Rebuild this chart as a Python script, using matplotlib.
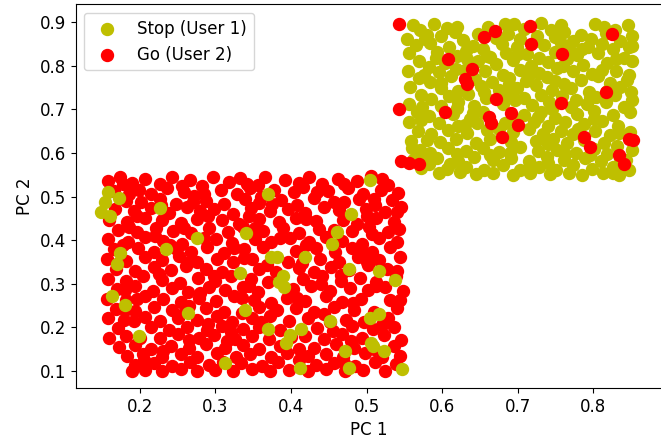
import numpy as np
import matplotlib
matplotlib.use("Agg")
import matplotlib.pyplot as plt

plt.rcParams['font.family'] = ['DejaVu Sans']
plt.rcParams['font.size'] = 12

# Stop (User 1) - main cluster, upper right
stop_main = np.array([
    (0.561,0.893),(0.571,0.881),(0.589,0.897),(0.606,0.886),(0.598,0.868),(0.647,0.874),(0.661,0.889),(0.695,0.895),(0.709,0.885),(0.731,0.898),(0.744,0.883),(0.762,0.878),(0.784,0.871),(0.803,0.896),(0.829,0.882),(0.846,0.893),(0.851,0.868),
    (0.553,0.862),(0.580,0.871),(0.617,0.877),(0.628,0.859),(0.672,0.864),(0.688,0.874),(0.703,0.861),(0.726,0.869),(0.749,0.866),(0.773,0.858),(0.797,0.862),(0.817,0.875),(0.836,0.856),
    (0.566,0.848),(0.584,0.853),(0.609,0.842),(0.641,0.846),(0.654,0.838),(0.679,0.851),(0.699,0.843),(0.735,0.847),(0.757,0.853),(0.768,0.839),(0.793,0.844),(0.812,0.851),(0.848,0.842),
    (0.556,0.829),(0.594,0.831),(0.620,0.823),(0.632,0.834),(0.663,0.821),(0.685,0.829),(0.713,0.826),(0.728,0.818),(0.749,0.832),(0.779,0.824),(0.806,0.829),(0.826,0.838),(0.841,0.817),
    (0.570,0.811),(0.583,0.797),(0.604,0.807),(0.647,0.811),(0.671,0.804),(0.694,0.813),(0.718,0.799),(0.741,0.809),(0.765,0.815),(0.787,0.801),(0.819,0.806),(0.852,0.812),
    (0.555,0.789),(0.596,0.785),(0.619,0.792),(0.657,0.787),(0.681,0.779),(0.703,0.791),(0.729,0.783),(0.752,0.796),(0.774,0.787),(0.799,0.782),(0.831,0.789),(0.847,0.778),
    (0.569,0.771),(0.584,0.763),(0.612,0.776),(0.644,0.770),(0.666,0.762),(0.689,0.772),(0.711,0.766),(0.739,0.774),(0.761,0.759),(0.784,0.768),(0.806,0.776),(0.823,0.761),(0.845,0.768),
    (0.558,0.751),(0.599,0.748),(0.621,0.742),(0.651,0.753),(0.676,0.745),(0.699,0.748),(0.724,0.757),(0.745,0.744),(0.771,0.749),(0.795,0.741),(0.836,0.752),
    (0.572,0.733),(0.586,0.724),(0.609,0.731),(0.634,0.736),(0.658,0.727),(0.686,0.735),(0.708,0.726),(0.731,0.733),(0.759,0.731),(0.778,0.722),(0.804,0.728),(0.829,0.734),(0.851,0.722),
    (0.556,0.713),(0.598,0.708),(0.621,0.717),(0.642,0.708),(0.681,0.713),(0.719,0.709),(0.742,0.718),(0.771,0.705),(0.792,0.712),(0.817,0.716),(0.841,0.706),
    (0.567,0.694),(0.583,0.686),(0.615,0.689),(0.637,0.679),(0.654,0.693),(0.709,0.688),(0.731,0.695),(0.749,0.681),(0.779,0.689),(0.801,0.696),(0.826,0.688),(0.849,0.694),
    (0.556,0.671),(0.596,0.668),(0.621,0.662),(0.646,0.669),(0.684,0.668),(0.722,0.672),(0.741,0.663),(0.763,0.671),(0.788,0.666),(0.812,0.673),(0.833,0.663),
    (0.568,0.651),(0.585,0.644),(0.608,0.653),(0.633,0.646),(0.659,0.652),(0.694,0.648),(0.715,0.655),(0.734,0.644),(0.757,0.651),(0.774,0.644),(0.803,0.651),(0.822,0.641),(0.849,0.649),
    (0.559,0.628),(0.597,0.625),(0.619,0.633),(0.645,0.623),(0.664,0.631),(0.691,0.626),(0.724,0.627),(0.747,0.633),(0.766,0.622),(0.788,0.629),(0.814,0.624),(0.832,0.617),
    (0.571,0.608),(0.584,0.601),(0.608,0.611),(0.632,0.604),(0.654,0.611),(0.676,0.603),(0.703,0.613),(0.727,0.604),(0.752,0.608),(0.777,0.601),(0.801,0.609),(0.819,0.598),(0.851,0.607),
    (0.561,0.585),(0.593,0.589),(0.621,0.582),(0.643,0.591),(0.667,0.583),(0.691,0.589),(0.715,0.582),(0.739,0.591),(0.761,0.583),(0.789,0.588),(0.811,0.581),(0.836,0.589),
    (0.572,0.566),(0.583,0.574),(0.606,0.563),(0.632,0.569),(0.656,0.562),(0.681,0.572),(0.703,0.561),(0.729,0.568),(0.751,0.562),(0.773,0.572),(0.799,0.564),(0.826,0.569),(0.848,0.562),
    (0.596,0.553),(0.624,0.557),(0.645,0.551),(0.668,0.555),(0.694,0.549),(0.716,0.553),(0.743,0.551),(0.768,0.555),(0.786,0.549),(0.813,0.553),(0.835,0.550),
    # filling the gaps
    (0.578,0.862),(0.620,0.890),(0.683,0.897),(0.757,0.893),(0.815,0.888),(0.592,0.818),(0.633,0.815),(0.700,0.828),(0.786,0.838),(0.830,0.815),
    (0.576,0.779),(0.631,0.790),(0.716,0.782),(0.760,0.800),(0.812,0.791),(0.598,0.761),(0.655,0.741),(0.689,0.758),(0.750,0.766),(0.818,0.743),
    (0.574,0.705),(0.620,0.703),(0.697,0.722),(0.745,0.700),(0.796,0.727),(0.850,0.740),(0.572,0.676),(0.641,0.692),(0.693,0.677),(0.727,0.682),
    (0.801,0.678),(0.580,0.630),(0.631,0.665),(0.676,0.655),(0.741,0.620),(0.780,0.655),(0.835,0.645),(0.574,0.594),(0.620,0.598),(0.690,0.601),
    (0.741,0.578),(0.796,0.595),(0.844,0.583),(0.560,0.612),(0.610,0.575),(0.663,0.596),(0.717,0.574),(0.763,0.597),(0.826,0.553),(0.852,0.845),
    (0.660,0.822),(0.725,0.858),
])

# Go (User 2) - main cluster, lower left
go_main = np.array([
    (0.157,0.535),(0.174,0.546),(0.189,0.531),(0.207,0.540),(0.226,0.528),(0.243,0.544),(0.266,0.537),(0.282,0.524),(0.297,0.546),(0.318,0.533),(0.333,0.542),(0.356,0.527),(0.366,0.546),(0.392,0.538),(0.424,0.545),(0.441,0.529),(0.462,0.541),(0.487,0.535),(0.506,0.547),(0.529,0.527),
    (0.165,0.513),(0.199,0.516),(0.214,0.506),(0.236,0.519),(0.258,0.511),(0.272,0.502),(0.307,0.514),(0.329,0.507),(0.346,0.520),(0.378,0.516),(0.404,0.511),(0.416,0.523),(0.449,0.512),(0.475,0.519),(0.496,0.506),(0.519,0.514),(0.542,0.509),
    (0.182,0.491),(0.201,0.487),(0.227,0.494),(0.248,0.483),(0.288,0.491),(0.311,0.482),(0.339,0.494),(0.358,0.486),(0.387,0.492),(0.408,0.481),(0.431,0.497),(0.457,0.488),(0.490,0.494),(0.511,0.481),(0.534,0.492),
    (0.167,0.472),(0.192,0.466),(0.214,0.474),(0.239,0.462),(0.262,0.476),(0.279,0.467),(0.298,0.471),(0.323,0.461),(0.347,0.474),(0.372,0.466),(0.396,0.472),(0.419,0.463),(0.444,0.477),(0.463,0.469),(0.499,0.471),(0.525,0.465),(0.546,0.476),
    (0.159,0.447),(0.183,0.441),(0.206,0.452),(0.229,0.446),(0.254,0.439),(0.275,0.449),(0.309,0.446),(0.331,0.438),(0.357,0.449),(0.384,0.442),(0.407,0.451),(0.433,0.443),(0.469,0.446),(0.488,0.438),(0.513,0.451),(0.537,0.441),
    (0.171,0.424),(0.196,0.418),(0.221,0.429),(0.244,0.421),(0.268,0.416),(0.292,0.427),(0.316,0.419),(0.336,0.431),(0.363,0.421),(0.389,0.428),(0.411,0.417),(0.437,0.425),(0.481,0.422),(0.503,0.431),(0.528,0.419),
    (0.157,0.402),(0.184,0.396),(0.207,0.407),(0.231,0.399),(0.256,0.392),(0.301,0.402),(0.322,0.394),(0.352,0.403),(0.374,0.396),(0.399,0.405),(0.424,0.397),(0.447,0.408),(0.468,0.399),(0.494,0.391),(0.517,0.404),(0.541,0.396),
    (0.166,0.379),(0.197,0.383),(0.218,0.372),(0.246,0.381),(0.267,0.374),(0.289,0.385),(0.311,0.371),(0.338,0.379),(0.363,0.384),(0.407,0.376),(0.433,0.383),(0.458,0.372),(0.481,0.381),(0.507,0.374),(0.531,0.385),
    (0.156,0.358),(0.181,0.352),(0.206,0.361),(0.229,0.354),(0.252,0.363),(0.276,0.351),(0.302,0.358),(0.323,0.349),(0.349,0.357),(0.396,0.351),(0.438,0.358),(0.464,0.351),(0.489,0.362),(0.516,0.355),(0.544,0.361),
    (0.168,0.334),(0.193,0.329),(0.218,0.338),(0.241,0.331),(0.261,0.341),(0.287,0.333),(0.309,0.327),(0.357,0.334),(0.368,0.342),(0.411,0.336),(0.431,0.328),(0.453,0.339),(0.477,0.331),(0.502,0.342),(0.527,0.334),
    (0.158,0.312),(0.182,0.306),(0.204,0.317),(0.229,0.309),(0.253,0.302),(0.277,0.314),(0.299,0.307),(0.321,0.318),(0.347,0.311),(0.369,0.304),(0.416,0.311),(0.441,0.318),(0.466,0.306),(0.491,0.314),(0.512,0.303),(0.539,0.317),
    (0.169,0.289),(0.193,0.294),(0.217,0.284),(0.243,0.291),(0.264,0.282),(0.291,0.293),(0.312,0.285),(0.336,0.292),(0.356,0.281),(0.403,0.287),(0.427,0.294),(0.452,0.283),(0.478,0.291),(0.502,0.286),(0.524,0.292),(0.548,0.283),
    (0.156,0.266),(0.182,0.262),(0.207,0.271),(0.231,0.264),(0.254,0.259),(0.278,0.268),(0.301,0.261),(0.324,0.272),(0.351,0.263),(0.374,0.257),(0.395,0.267),(0.419,0.261),(0.446,0.271),(0.468,0.259),(0.493,0.266),(0.531,0.262),
    (0.168,0.243),(0.194,0.238),(0.219,0.247),(0.242,0.241),(0.287,0.244),(0.311,0.236),(0.357,0.247),(0.381,0.239),(0.406,0.245),(0.431,0.236),(0.457,0.247),(0.483,0.241),(0.541,0.244),
    (0.157,0.221),(0.179,0.216),(0.206,0.224),(0.227,0.214),(0.251,0.222),(0.276,0.217),(0.302,0.226),(0.322,0.213),(0.348,0.221),(0.372,0.226),(0.397,0.214),(0.422,0.222),(0.473,0.218),(0.497,0.212),(0.529,0.221),
    (0.171,0.198),(0.214,0.202),(0.238,0.194),(0.262,0.201),(0.289,0.193),(0.309,0.204),(0.336,0.196),(0.357,0.202),(0.385,0.193),(0.434,0.199),(0.456,0.192),(0.481,0.203),(0.508,0.196),(0.537,0.201),
    (0.159,0.176),(0.182,0.181),(0.227,0.176),(0.251,0.184),(0.278,0.175),(0.298,0.182),(0.326,0.173),(0.349,0.181),(0.371,0.174),(0.419,0.181),(0.444,0.173),(0.468,0.184),(0.494,0.176),(0.523,0.182),(0.546,0.171),
    (0.172,0.155),(0.194,0.159),(0.215,0.151),(0.241,0.158),(0.265,0.152),(0.287,0.161),(0.313,0.153),(0.337,0.159),(0.358,0.151),(0.386,0.157),(0.431,0.153),(0.459,0.161),(0.484,0.152),(0.537,0.158),
    (0.183,0.134),(0.204,0.138),(0.229,0.131),(0.254,0.139),(0.276,0.132),(0.302,0.141),(0.327,0.133),(0.346,0.139),(0.374,0.131),(0.395,0.142),(0.422,0.134),(0.447,0.139),(0.469,0.131),(0.498,0.141),(0.521,0.133),
    (0.193,0.114),(0.218,0.118),(0.243,0.111),(0.266,0.121),(0.291,0.113),(0.334,0.119),(0.361,0.112),(0.383,0.121),(0.433,0.114),(0.457,0.119),(0.485,0.112),(0.511,0.121),(0.539,0.115),
    (0.189,0.101),(0.206,0.103),(0.229,0.099),(0.254,0.104),(0.276,0.100),(0.299,0.103),(0.323,0.099),(0.349,0.104),(0.372,0.100),(0.398,0.102),(0.422,0.099),(0.447,0.104),(0.471,0.100),(0.495,0.102),(0.524,0.100),
    # filling the gaps
    (0.178,0.528),(0.255,0.525),(0.342,0.530),(0.410,0.532),(0.470,0.528),(0.520,0.540),(0.185,0.505),(0.285,0.505),(0.360,0.500),(0.435,0.510),
    (0.510,0.495),(0.228,0.480),(0.270,0.487),(0.375,0.482),(0.470,0.488),(0.540,0.465),(0.196,0.455),(0.290,0.455),(0.344,0.455),(0.420,0.448),
    (0.500,0.455),(0.185,0.430),(0.258,0.428),(0.352,0.428),(0.457,0.424),(0.543,0.425),(0.220,0.410),(0.285,0.405),(0.385,0.405),(0.507,0.415),
    (0.178,0.390),(0.240,0.390),(0.325,0.383),(0.420,0.388),(0.494,0.372),(0.170,0.346),(0.262,0.347),(0.338,0.360),(0.415,0.348),(0.500,0.350),
    (0.225,0.322),(0.298,0.318),(0.380,0.326),(0.466,0.320),(0.540,0.330),(0.180,0.285),(0.280,0.280),(0.345,0.295),(0.440,0.300),(0.513,0.296),
    (0.196,0.265),(0.265,0.250),(0.335,0.268),(0.408,0.268),(0.482,0.255),(0.545,0.262),(0.180,0.240),(0.260,0.238),(0.335,0.232),(0.444,0.230),
    (0.510,0.236),(0.192,0.215),(0.290,0.208),(0.360,0.212),(0.452,0.212),(0.520,0.205),(0.200,0.175),(0.265,0.170),(0.320,0.190),(0.400,0.178),
    (0.480,0.168),(0.230,0.145),(0.315,0.168),(0.410,0.150),(0.510,0.150),(0.205,0.125),(0.310,0.120),(0.410,0.125),(0.470,0.118),(0.545,0.135),
])

# Go points that fall inside the Stop cluster
go_in_stop = np.array([
    (0.543,0.895),(0.656,0.865),(0.670,0.880),(0.717,0.891),(0.718,0.849),(0.825,0.874),
    (0.759,0.827),(0.608,0.815),(0.640,0.793),(0.630,0.769),(0.633,0.758),(0.817,0.741),
    (0.672,0.723),(0.757,0.714),(0.543,0.702),(0.604,0.693),(0.691,0.692),(0.662,0.682),
    (0.665,0.668),(0.701,0.664),(0.680,0.637),(0.788,0.637),(0.796,0.613),(0.848,0.632),
    (0.853,0.630),(0.835,0.595),(0.841,0.575),(0.546,0.582),(0.556,0.576),(0.570,0.574),
])

# Stop points that fall inside the Go cluster
stop_in_go = np.array([
    (0.157,0.511),(0.154,0.488),(0.149,0.465),(0.160,0.456),(0.172,0.497),(0.226,0.473),
    (0.370,0.507),(0.504,0.538),(0.340,0.417),(0.275,0.404),(0.234,0.379),(0.174,0.371),
    (0.169,0.345),(0.374,0.361),(0.382,0.361),(0.419,0.361),(0.332,0.324),(0.390,0.318),
    (0.384,0.305),(0.391,0.292),(0.163,0.272),(0.180,0.251),(0.339,0.241),(0.263,0.234),
    (0.369,0.196),(0.413,0.196),(0.399,0.183),(0.393,0.165),(0.199,0.181),(0.312,0.119),
    (0.412,0.106),(0.454,0.391),(0.452,0.214),(0.479,0.460),(0.461,0.419),(0.477,0.334),
    (0.516,0.330),(0.538,0.309),(0.504,0.221),(0.517,0.231),(0.506,0.164),(0.508,0.158),
    (0.472,0.146),(0.523,0.146),(0.477,0.106),(0.547,0.104),
])

fig = plt.figure(figsize=(6.61, 4.44), dpi=100)
ax = fig.add_axes([75.8 / 661, 56 / 444, 586.7 / 661, 383.5 / 444])

s = 74
ax.scatter(stop_main[:, 0], stop_main[:, 1], c='y', s=s, label='Stop (User 1)')
ax.scatter(go_main[:, 0], go_main[:, 1], c='r', s=s, label='Go (User 2)')
ax.scatter(go_in_stop[:, 0], go_in_stop[:, 1], c='r', s=s)
ax.scatter(stop_in_go[:, 0], stop_in_go[:, 1], c='y', s=s)

ax.set_xlim(0.115, 0.892)
ax.set_ylim(0.061, 0.9406)
ax.set_xticks([0.2, 0.3, 0.4, 0.5, 0.6, 0.7, 0.8])
ax.set_yticks([0.1, 0.2, 0.3, 0.4, 0.5, 0.6, 0.7, 0.8, 0.9])
ax.set_xlabel('PC 1')
ax.set_ylabel('PC 2')
ax.legend(loc='upper left')

fig.savefig('out.png', dpi=100)
